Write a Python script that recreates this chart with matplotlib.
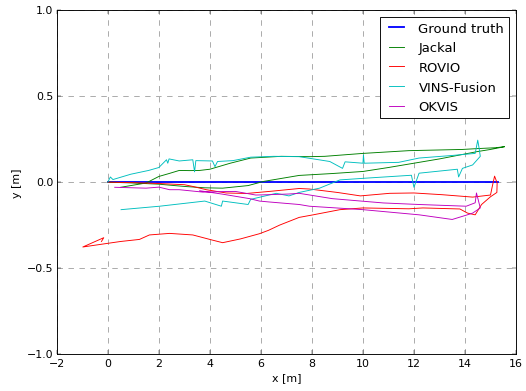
import numpy as np
import matplotlib
matplotlib.use("Agg")
import matplotlib.pyplot as plt

plt.style.use('classic')

# trajectories (x [m], y [m])
gt_x = [0.0, 15.3]
gt_y = [0.0, 0.0]

jackal_x = [0.0, 1.0, 2.0, 3.0, 3.8, 4.5, 5.5, 6.1, 7.5, 8.8, 10.0, 11.0, 12.2, 13.0,
            13.8, 14.5, 15.0, 15.55, 15.2, 14.5, 13.9, 11.8, 10.0, 8.5, 7.9, 6.8, 5.6,
            4.8, 4.0, 3.6, 3.2, 2.8, 2.4, 2.0, 1.5, 0.5]
jackal_y = [0.0, -0.005, -0.012, -0.025, -0.033, -0.035, -0.02, 0.004, 0.039, 0.05, 0.062,
            0.085, 0.115, 0.135, 0.158, 0.178, 0.19, 0.206, 0.2, 0.195, 0.19, 0.183, 0.167,
            0.15, 0.148, 0.15, 0.14, 0.11, 0.075, 0.068, 0.067, 0.068, 0.05, 0.033, -0.005,
            -0.03]

rovio_x = [0.0, 1.0, 2.0, 3.0, 3.33, 3.86, 4.64, 5.43, 6.33, 7.5, 7.9, 9.0, 9.9, 11.05,
           12.0, 13.1, 14.3, 15.0, 15.07, 15.16, 15.26, 15.25, 15.0, 14.65, 14.4, 14.1,
           13.8, 12.35, 11.8, 10.0, 9.1, 8.05, 7.5, 6.73, 6.3, 5.94, 5.2, 4.5, 4.1, 3.33,
           2.42, 1.63, 1.24, 0.5, -0.2, -0.98, -0.16, -0.25]
rovio_y = [0.0, -0.003, -0.008, -0.015, -0.025, -0.044, -0.063, -0.066, -0.054, -0.037,
           -0.04, -0.06, -0.08, -0.065, -0.063, -0.073, -0.087, -0.075, -0.025, 0.035,
           -0.005, -0.06, -0.085, -0.13, -0.19, -0.18, -0.156, -0.15, -0.155, -0.15,
           -0.16, -0.19, -0.205, -0.25, -0.28, -0.3, -0.33, -0.352, -0.337, -0.307,
           -0.298, -0.307, -0.333, -0.345, -0.36, -0.377, -0.323, -0.345]

vins_x = [0.0, 0.1, 0.2, 0.9, 1.6, 2.0, 2.3, 2.35, 2.4, 2.8, 3.33, 3.4, 3.45, 4.1, 4.2,
          4.3, 4.9, 5.6, 6.5, 7.5, 8.7, 9.2, 9.3, 10.0, 10.02, 10.05, 11.4, 12.2, 13.5,
          14.4, 14.5, 14.55, 14.6, 14.3, 13.9, 13.75, 13.7, 12.2, 12.0, 11.9, 10.1, 9.1,
          8.3, 7.5, 7.1, 6.6, 5.6, 5.5, 4.5, 4.45, 3.8, 2.03, 0.52]
vins_y = [0.0, 0.03, 0.015, 0.046, 0.068, 0.085, 0.13, 0.11, 0.135, 0.123, 0.13, 0.06,
          0.125, 0.123, 0.09, 0.12, 0.125, 0.145, 0.15, 0.148, 0.12, 0.08, 0.118, 0.11,
          0.158, 0.11, 0.115, 0.14, 0.155, 0.167, 0.244, 0.2, 0.15, 0.1, 0.08, 0.03, 0.075,
          0.052, -0.03, 0.04, 0.023, 0.013, -0.035, -0.06, -0.08, -0.065, -0.1, -0.13,
          -0.11, -0.14, -0.11, -0.14, -0.16]

okvis_x = [0.27, 1.5, 2.0, 2.42, 2.8, 3.73, 4.5, 5.0, 5.8, 6.3, 7.1, 7.5, 8.8, 10.8, 12.2,
           14.05, 14.4, 14.45, 14.6, 14.3, 14.05, 13.5, 12.2, 10.0, 7.9, 7.5, 6.3, 5.94,
           5.56, 4.5, 3.6]
okvis_y = [-0.03, -0.035, -0.029, -0.044, -0.044, -0.058, -0.055, -0.054, -0.075, -0.073,
           -0.069, -0.065, -0.096, -0.121, -0.13, -0.14, -0.12, -0.063, -0.15, -0.18,
           -0.192, -0.217, -0.19, -0.16, -0.14, -0.13, -0.115, -0.11, -0.096, -0.07, -0.05]

fig = plt.figure(figsize=(8, 5.96), dpi=65.75, facecolor='white')
ax = fig.add_axes([0.108, 0.094, 0.873, 0.878])
ax.set_axisbelow(True)

ax.plot(gt_x, gt_y, color='b', linewidth=2, label="Ground truth")
ax.plot(jackal_x, jackal_y, color='g', linewidth=1, label="Jackal")
ax.plot(rovio_x, rovio_y, color='r', linewidth=1, label="ROVIO")
ax.plot(vins_x, vins_y, color='c', linewidth=1, label="VINS-Fusion")
ax.plot(okvis_x, okvis_y, color='m', linewidth=1, label="OKVIS")

ax.set_xlim(-2, 16)
ax.set_ylim(-1, 1)
ax.set_xticks(np.arange(-2, 17, 2))
ax.set_yticks([-1.0, -0.5, 0.0, 0.5, 1.0])
ax.set_xlabel("x [m]")
ax.set_ylabel("y [m]")
ax.grid(True, linestyle='--', color='0.65', linewidth=1)
ax.legend(loc='upper right', handlelength=1.7)
fig.savefig("out.png", dpi=65.75, facecolor='white')
